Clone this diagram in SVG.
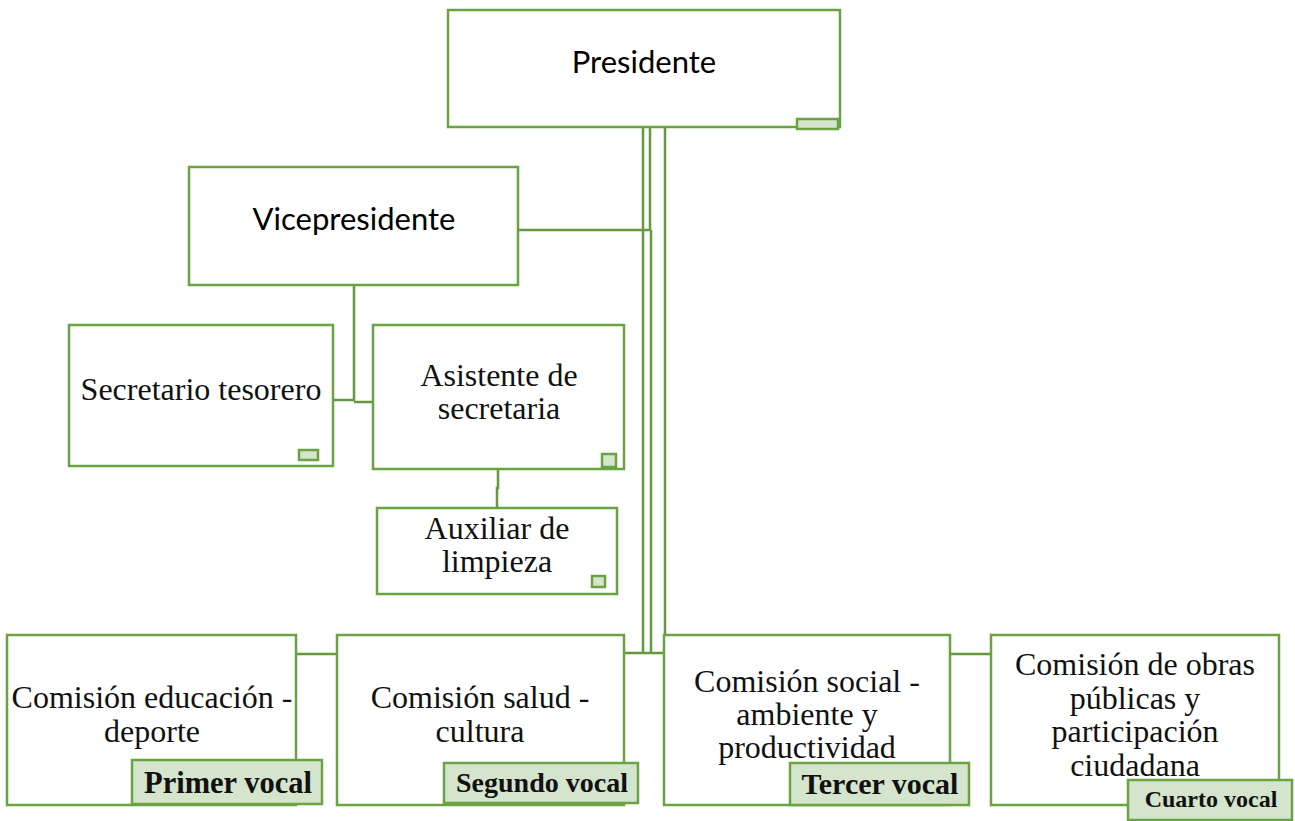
<svg xmlns="http://www.w3.org/2000/svg" width="1295" height="821" viewBox="0 0 1295 821">
<style>
.box{fill:#fff;stroke:#6aa341;stroke-width:2.5}
.tab{fill:#d5e4cc;stroke:#6aa341;stroke-width:2.5}
.ln{fill:none;stroke:#64993f;stroke-width:2.5}
.sans{font-family:"Lato","Open Sans",sans-serif;font-size:31px;fill:#000;text-anchor:middle}
.serif{font-family:"Liberation Serif","Times New Roman",serif;font-size:32px;fill:#111;text-anchor:middle}
.vocal{font-family:"Liberation Serif","Times New Roman",serif;font-weight:bold;fill:#111;text-anchor:middle}
</style>
<rect width="1295" height="821" fill="#fff"/>
<g id="connectors">
<path class="ln" d="M643 127V653"/>
<path class="ln" d="M650 127V230" stroke-width="3.5"/>
<path class="ln" d="M651 230V653"/>
<path class="ln" d="M665 127V635"/>
<path class="ln" d="M624 653H664"/>
<path class="ln" d="M518 230H651"/>
<path class="ln" d="M354 285V400H333M354 402H373"/>
<path class="ln" d="M498 469V488H497V508"/>
<path class="ln" d="M296 654H337"/>
<path class="ln" d="M950 654H991"/>
</g>
<g id="presidente">
<rect class="box" x="448" y="10" width="392" height="117"/>
<rect class="tab" x="797" y="119" width="41" height="10"/>
<text class="sans" x="644" y="73">Presidente</text>
</g>
<g id="vicepresidente">
<rect class="box" x="189" y="167" width="329" height="118"/>
<text class="sans" x="354" y="230">Vicepresidente</text>
</g>
<g id="secretario">
<rect class="box" x="69" y="325" width="264" height="141"/>
<rect class="tab" x="299" y="450" width="19" height="10"/>
<text class="serif" x="201" y="400">Secretario tesorero</text>
</g>
<g id="asistente">
<rect class="box" x="373" y="325" width="251" height="144"/>
<rect class="tab" x="602" y="454" width="14" height="13"/>
<text class="serif" x="499" y="386">Asistente de</text>
<text class="serif" x="499" y="419">secretaria</text>
</g>
<g id="auxiliar">
<rect class="box" x="377" y="508" width="240" height="86"/>
<rect class="tab" x="592" y="576" width="13" height="11"/>
<text class="serif" x="497" y="539">Auxiliar de</text>
<text class="serif" x="497" y="572">limpieza</text>
</g>
<g id="educacion">
<rect class="box" x="7" y="635" width="289" height="170"/>
<text class="serif" x="152" y="708">Comisión educación -</text>
<text class="serif" x="152" y="742">deporte</text>
<rect class="tab" x="132" y="760" width="190" height="44"/>
<text class="vocal" x="228" y="793" font-size="30.5">Primer vocal</text>
</g>
<g id="salud">
<rect class="box" x="337" y="635" width="287" height="170"/>
<text class="serif" x="480" y="708">Comisión salud -</text>
<text class="serif" x="480" y="742">cultura</text>
<rect class="tab" x="444" y="763" width="194" height="40"/>
<text class="vocal" x="542" y="792" font-size="28">Segundo vocal</text>
</g>
<g id="social">
<rect class="box" x="664" y="635" width="286" height="170"/>
<text class="serif" x="807" y="692">Comisión social -</text>
<text class="serif" x="807" y="725">ambiente y</text>
<text class="serif" x="807" y="758">productividad</text>
<rect class="tab" x="790" y="763" width="179" height="42"/>
<text class="vocal" x="880" y="794" font-size="30">Tercer vocal</text>
</g>
<g id="obras">
<rect class="box" x="991" y="635" width="288" height="170"/>
<text class="serif" x="1135" y="675">Comisión de obras</text>
<text class="serif" x="1135" y="709">públicas y</text>
<text class="serif" x="1135" y="742">participación</text>
<text class="serif" x="1135" y="776">ciudadana</text>
<rect class="tab" x="1128" y="780" width="164" height="40"/>
<text class="vocal" x="1211" y="807" font-size="24">Cuarto vocal</text>
</g>
</svg>
